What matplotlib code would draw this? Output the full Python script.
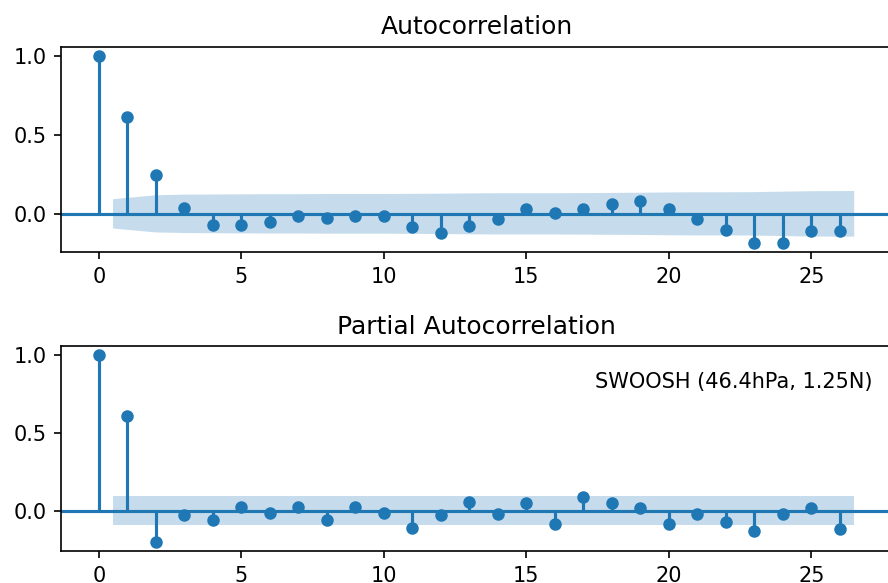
import numpy as np
import matplotlib
matplotlib.use("Agg")
import matplotlib.pyplot as plt

# lags shown on both panels
lags = np.arange(27)

# autocorrelation
acf_vals = [1.0, 0.616, 0.244, 0.038, -0.070, -0.070, -0.053, -0.015, -0.028,
            -0.015, -0.015, -0.085, -0.121, -0.076, -0.034, 0.032, 0.008,
            0.032, 0.064, 0.079, 0.032, -0.034, -0.100, -0.183, -0.183,
            -0.112, -0.112]
# half width of the 95% band, lags 1..26
acf_band = [0.093, 0.118, 0.122, 0.123, 0.124, 0.125, 0.125, 0.126, 0.126,
            0.126, 0.127, 0.128, 0.130, 0.131, 0.131, 0.131, 0.132, 0.133,
            0.134, 0.136, 0.137, 0.137, 0.138, 0.141, 0.144, 0.145]

# partial autocorrelation
pacf_vals = [1.0, 0.609, -0.198, -0.028, -0.058, 0.028, -0.015, 0.028, -0.058,
             0.028, -0.015, -0.112, -0.028, 0.060, -0.019, 0.049, -0.084,
             0.092, 0.049, 0.021, -0.084, -0.019, -0.069, -0.129, -0.019,
             0.021, -0.116]
pacf_band = [0.0935] * 26

label = "SWOOSH (46.4hPa, 1.25N)"


def corr_panel(ax, vals, band, title):
    vals = np.asarray(vals)
    band = np.asarray(band)
    ax.vlines(lags, [0], vals)
    ax.axhline()
    ax.margins(0.05)
    ax.plot(lags, vals, marker="o", markersize=5, linestyle="None")
    ax.set_title(title)
    # band skips lag 0 and is stretched half a lag at both ends
    bx = lags[1:].astype(float)
    bx[0] -= 0.5
    bx[-1] += 0.5
    ax.fill_between(bx, -band, band, alpha=0.25)


fig = plt.figure(figsize=(888 / 150, 583 / 150), dpi=150)
ax1 = fig.add_axes([61 / 888, 1 - 252 / 583, 831 / 888, 205 / 583])
ax2 = fig.add_axes([61 / 888, 1 - 551 / 583, 831 / 888, 205 / 583])

corr_panel(ax1, acf_vals, acf_band, "Autocorrelation")
corr_panel(ax2, pacf_vals, pacf_band, "Partial Autocorrelation")
ax2.text(0.976, 0.824, label, transform=ax2.transAxes, ha="right", va="center")

fig.savefig("out.png", dpi=150)
